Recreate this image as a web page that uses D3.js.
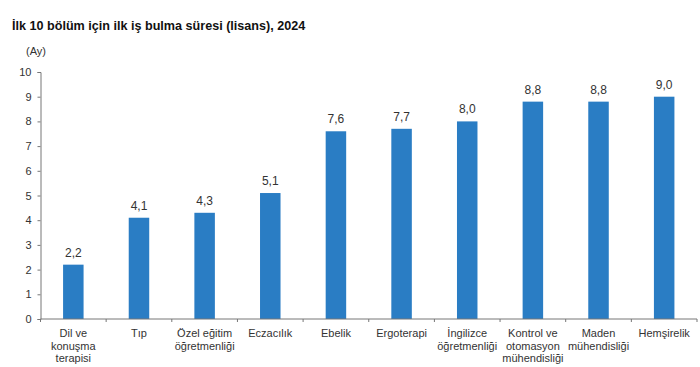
<!DOCTYPE html>
<html>
<head>
<meta charset="utf-8">
<script src="https://d3js.org/d3.v7.min.js"></script>
<style>
  body { margin: 0; background: #fff; }
  text { font-family: "Liberation Sans", Arial, sans-serif; }
</style>
</head>
<body>
<svg id="chart"></svg>
<script>
// data
var categories = [
  ["Dil ve", "konuşma", "terapisi"],
  ["Tıp"],
  ["Özel eğitim", "öğretmenliği"],
  ["Eczacılık"],
  ["Ebelik"],
  ["Ergoterapi"],
  ["İngilizce", "öğretmenliği"],
  ["Kontrol ve", "otomasyon", "mühendisliği"],
  ["Maden", "mühendisliği"],
  ["Hemşirelik"]
];
var values = [2.2, 4.1, 4.3, 5.1, 7.6, 7.7, 8.0, 8.8, 8.8, 9.0];
var yTicks = [0, 1, 2, 3, 4, 5, 6, 7, 8, 9, 10];

var width = 700, height = 367;
var margin = {top: 72, right: 3, bottom: 48, left: 40.5};

var svg = d3.select("#chart")
    .attr("width", width)
    .attr("height", height);

svg.append("text")
    .attr("x", 12)
    .attr("y", 30)
    .style("font-size", "12.6px")
    .style("font-weight", "bold")
    .style("fill", "#111")
    .text("İlk 10 bölüm için ilk iş bulma süresi (lisans), 2024");

svg.append("text")
    .attr("x", 26)
    .attr("y", 55)
    .style("font-size", "11px")
    .style("fill", "#333")
    .text("(Ay)");

var g = svg.append("g")
    .attr("transform", "translate(" + margin.left + "," + margin.top + ")");

var w = width - margin.left - margin.right,
    h = height - margin.top - margin.bottom;

var idx = d3.range(values.length);

var x = d3.scaleBand().domain(idx).range([0, w]);
var y = d3.scaleLinear().domain([0, 10]).range([h, 0]);

var barW = 20.5;

g.selectAll(".bar")
    .data(values)
  .enter().append("rect")
    .attr("x", function(d, i) { return x(i) + x.bandwidth() / 2 - barW / 2; })
    .attr("y", function(d) { return y(d); })
    .attr("width", barW)
    .attr("height", function(d) { return h - y(d); })
    .attr("fill", "#2a7dc4");

g.selectAll(".val")
    .data(values)
  .enter().append("text")
    .attr("x", function(d, i) { return x(i) + x.bandwidth() / 2; })
    .attr("y", function(d) { return y(d) - 8; })
    .attr("text-anchor", "middle")
    .style("font-size", "12px")
    .style("fill", "#333")
    .text(function(d) { return d.toFixed(1).replace(".", ","); });

// y axis
var yAxis = g.append("g")
    .call(d3.axisLeft(y).tickValues(yTicks).tickSize(3).tickPadding(6));
yAxis.select(".domain").attr("stroke", "#777");
yAxis.selectAll(".tick line").attr("stroke", "#777");
yAxis.selectAll(".tick text")
    .style("font-size", "11px")
    .style("fill", "#333")
    .style("font-family", "Liberation Sans, Arial, sans-serif");

// x axis: ticks between categories
var xAxisG = g.append("g").attr("transform", "translate(0," + h + ")");
xAxisG.append("line")
    .attr("x1", 0).attr("x2", w)
    .attr("stroke", "#777");
xAxisG.selectAll(".xt")
    .data(d3.range(values.length + 1))
  .enter().append("line")
    .attr("x1", function(i) { return i * x.step(); })
    .attr("x2", function(i) { return i * x.step(); })
    .attr("y1", 0).attr("y2", 3)
    .attr("stroke", "#777");

var labels = xAxisG.selectAll(".xl")
    .data(categories)
  .enter().append("text")
    .attr("x", function(d, i) { return x(i) + x.bandwidth() / 2; })
    .attr("y", 18)
    .attr("text-anchor", "middle")
    .style("font-size", "11px")
    .style("fill", "#333");

labels.selectAll("tspan")
    .data(function(d) { return d; })
  .enter().append("tspan")
    .attr("x", function() { return d3.select(this.parentNode).attr("x"); })
    .attr("dy", function(d, i) { return i === 0 ? 0 : 12.5; })
    .text(function(d) { return d; });
</script>
</body>
</html>
